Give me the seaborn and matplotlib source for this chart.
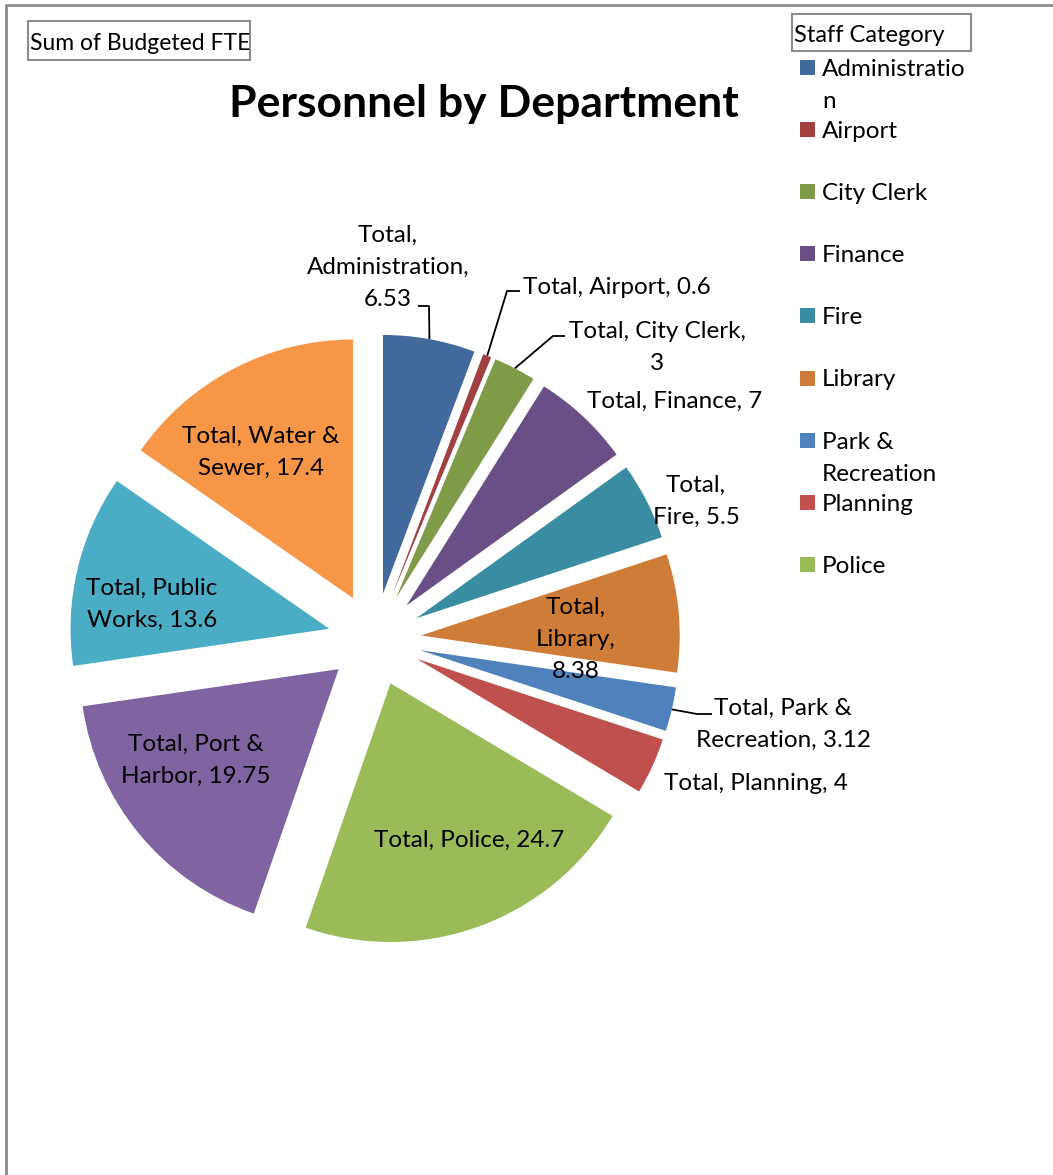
import matplotlib
matplotlib.use("Agg")
import matplotlib.pyplot as plt
from matplotlib.patches import Rectangle
from matplotlib.lines import Line2D
import numpy as np
import seaborn as sns

# ---- data -------------------------------------------------------------
departments = ["Administration", "Airport", "City Clerk", "Finance", "Fire",
               "Library", "Park & Recreation", "Planning", "Police",
               "Port & Harbor", "Public Works", "Water & Sewer"]
budgeted_fte = [6.53, 0.6, 3, 7, 5.5, 8.38, 3.12, 4, 24.7, 19.75, 13.6, 17.4]
slice_colors = ["#41699C", "#A1403E", "#7F9B48", "#6A4F87", "#3A8CA2",
                "#CF7C38", "#4F81BD", "#C0504D", "#9BBB59", "#8064A2",
                "#4BACC6", "#F79646"]
# label text per slice ({} is replaced by the slice value)
label_templates = ["Total,\nAdministration,\n{}", "Total, Airport, {}",
                   "Total, City Clerk,\n{}", "Total, Finance, {}",
                   "Total,\nFire, {}", "Total,\nLibrary,\n{}",
                   "Total, Park &\nRecreation, {}", "Total, Planning, {}",
                   "Total, Police, {}", "Total, Port &\nHarbor, {}",
                   "Total, Public\nWorks, {}", "Total, Water &\nSewer, {}"]
# legend shows the first nine categories, as wrapped in the legend area
legend_labels = ["Administratio\nn", "Airport", "City Clerk", "Finance", "Fire",
                 "Library", "Park &\nRecreation", "Planning", "Police"]

# ---- layout (pixel coordinates, origin top-left) ---------------------
W, H = 1053, 1175
CX, CY, R, EXPLODE = 374.6, 639.5, 258.7, 46.6
LINE_H = 32  # text line pitch in px
# label centres
label_pos = [(388, 265), (523, 285), (657, 345), (675, 399), (696, 499),
             (576, 637), (783, 722), (756, 782), (469, 838), (196, 758),
             (152, 602), (261, 450)]
label_ha = ["center", "left", "center", "center", "center", "center",
            "center", "center", "center", "center", "center", "center"]
# leader lines: (slice index, elbow point, end point near the label)
leaders = [(0, (429, 306), (418, 306)),
           (1, (507, 291), (520, 291)),
           (2, (553, 336), (565, 336)),
           (6, (697, 714), (712, 714))]

def P(x, y):
    return x, H - y

def block(x, y, text, ha, fs, **kw):
    """Draw multi-line text centred vertically on y with a fixed line pitch."""
    lines = text.split("\n")
    y0 = y - LINE_H * (len(lines) - 1) / 2
    if ha == "left":
        for k, ln in enumerate(lines):
            ax.text(*P(x, y0 + k * LINE_H), ln, ha="left", va="center_baseline",
                    fontsize=fs, **kw)
    else:
        for k, ln in enumerate(lines):
            ax.text(*P(x, y0 + k * LINE_H), ln, ha="center",
                    va="center_baseline", fontsize=fs, **kw)

sns.set_theme(style="white")
plt.rcParams["font.family"] = ["Lato", "DejaVu Sans"]

fig = plt.figure(figsize=(W / 100, H / 100), dpi=100)
ax = fig.add_axes([0, 0, 1, 1])

palette = sns.color_palette(slice_colors)
wedges, _ = ax.pie(budgeted_fte, colors=palette, startangle=90,
                   counterclock=False, radius=R, center=P(CX, CY),
                   explode=[EXPLODE] * len(budgeted_fte),
                   wedgeprops=dict(linewidth=0))
ax.set_xlim(0, W)
ax.set_ylim(0, H)
ax.set_aspect("equal")
ax.axis("off")

# slice labels
LFS = 17.5
for tmpl, val, (lx, ly), ha in zip(label_templates, budgeted_fte, label_pos, label_ha):
    block(lx, ly, tmpl.format(f"{val:g}"), ha, LFS, color="black")

# leader lines from each slice's outer arc midpoint
for idx, elbow, end in leaders:
    w = wedges[idx]
    tm = np.deg2rad(0.5 * (w.theta1 + w.theta2))
    wx, wy = w.center
    sx, sy = wx + R * np.cos(tm), wy + R * np.sin(tm)
    ex, ey = P(*elbow)
    nx, ny = P(*end)
    ax.plot([sx, ex, nx], [sy, ey, ny], color="black", lw=1.3,
            solid_capstyle="butt")

# title
ax.text(*P(484, 100), "Personnel by Department", ha="center",
        va="center_baseline", fontsize=32, fontweight="bold", color="black")

# field button boxes
ax.add_patch(Rectangle(P(28, 60), 222, 39, fill=False, ec="#8C8C8C", lw=1.5))
ax.text(*P(30, 42), "Sum of Budgeted FTE", ha="left", va="center_baseline",
        fontsize=16.5, color="black")
ax.add_patch(Rectangle(P(792, 51), 179, 37, fill=False, ec="#8C8C8C", lw=1.5))
ax.text(*P(794, 33), "Staff Category", ha="left", va="center_baseline",
        fontsize=17, color="black")

# legend
for i, (lab, col) in enumerate(zip(legend_labels, slice_colors)):
    yc = 67 + 62.2 * i
    ax.add_patch(Rectangle(P(800, yc + 7.5), 15, 15, color=col, lw=0))
    for k, ln in enumerate(lab.split("\n")):
        ax.text(*P(822, yc + k * LINE_H), ln, ha="left", va="center_baseline",
                fontsize=17.5, color="black")

# chart area border (left and top)
ax.add_line(Line2D([6, 6, W], [0, H - 5, H - 5], color="#8C8C8C", lw=2))

fig.savefig("out.png", dpi=100, facecolor="white")
